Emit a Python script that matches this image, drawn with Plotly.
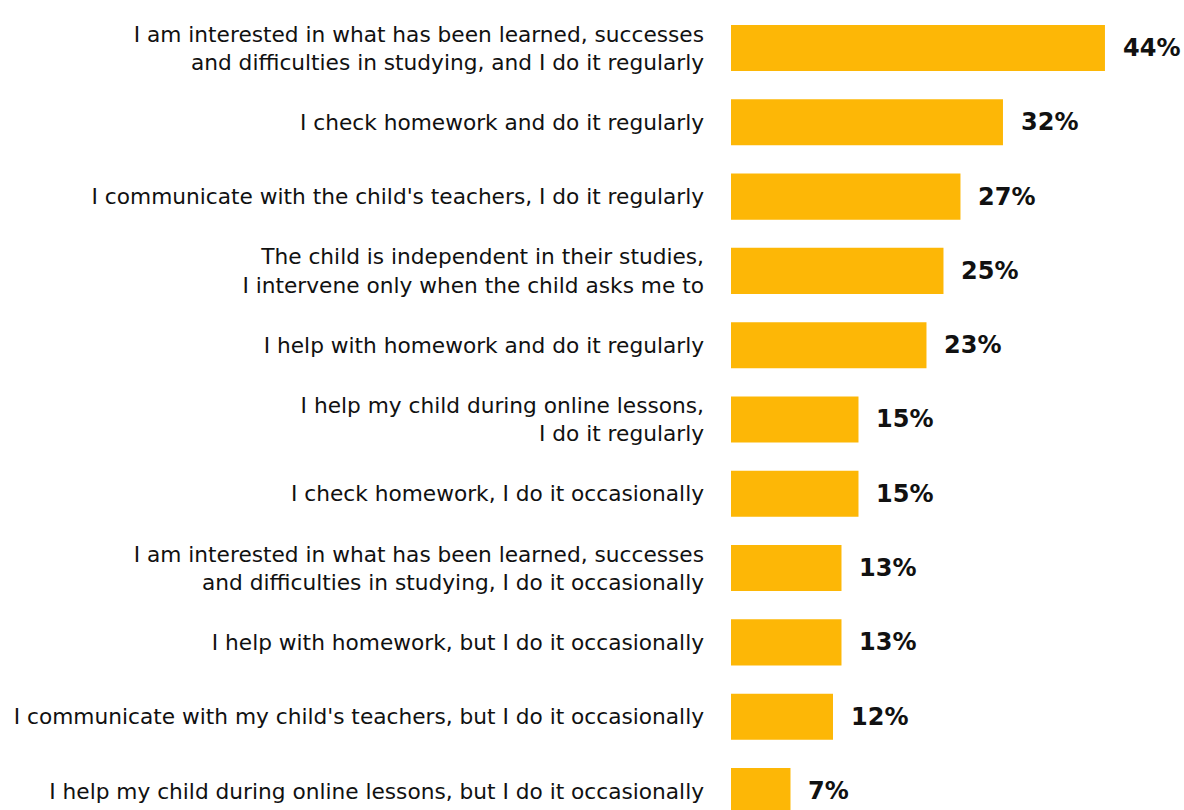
import plotly.graph_objects as go

# Survey answers, top to bottom
labels = [
    "I am interested in what has been learned, successes<br>and difficulties in studying, and I do it regularly",
    "I check homework and do it regularly",
    "I communicate with the child's teachers, I do it regularly",
    "The child is independent in their studies,<br>I intervene only when the child asks me to",
    "I help with homework and do it regularly",
    "I help my child during online lessons,<br>I do it regularly",
    "I check homework, I do it occasionally",
    "I am interested in what has been learned, successes<br>and difficulties in studying, I do it occasionally",
    "I help with homework, but I do it occasionally",
    "I communicate with my child's teachers, but I do it occasionally",
    "I help my child during online lessons, but I do it occasionally",
]
values = [44, 32, 27, 25, 23, 15, 15, 13, 13, 12, 7]

BAR_COLOR = "#FDB706"
LABEL_FONT = "DejaVu Sans"

fig = go.Figure(
    go.Bar(
        x=values,
        y=list(range(len(labels))),
        orientation="h",
        marker=dict(color=BAR_COLOR, line=dict(width=0)),
        width=0.62,
        hoverinfo="skip",
    )
)

# Percentage labels to the right of each bar
for i, v in enumerate(values):
    fig.add_annotation(
        x=v, y=i, xref="x", yref="y",
        text=f"<b>{v}%</b>",
        showarrow=False,
        xanchor="left", yanchor="middle",
        xshift=16,
        font=dict(family=LABEL_FONT, size=24, color="#111111"),
    )

fig.update_layout(
    width=1184, height=810,
    margin=dict(l=731, r=0, t=0, b=0),
    paper_bgcolor="white", plot_bgcolor="white",
    showlegend=False,
    bargap=0.38,
    xaxis=dict(range=[0, 53.3], visible=False, fixedrange=True),
    yaxis=dict(
        tickmode="array",
        tickvals=list(range(len(labels))),
        ticktext=labels,
        range=[10.256, -0.646],
        showgrid=False, zeroline=False, showline=False,
        ticks="",
        ticklabelstandoff=26,
        tickfont=dict(family=LABEL_FONT, size=21.7, color="#111111"),
    ),
)

fig.write_html("out.html")
